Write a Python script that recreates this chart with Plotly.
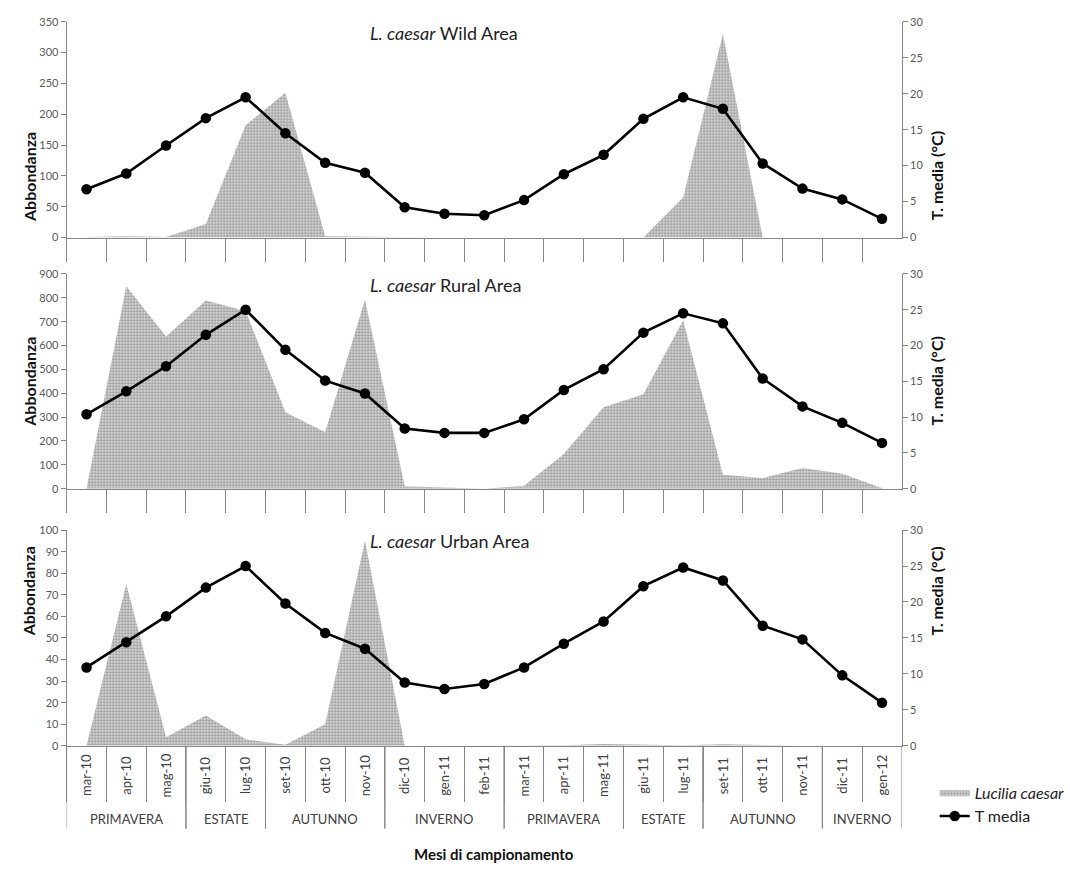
import plotly.graph_objects as go

# ---------------- data ----------------
months = ["mar-10", "apr-10", "mag-10", "giu-10", "lug-10", "set-10", "ott-10",
          "nov-10", "dic-10", "gen-11", "feb-11", "mar-11", "apr-11", "mag-11",
          "giu-11", "lug-11", "set-11", "ott-11", "nov-11", "dic-11", "gen-12"]
seasons = ["PRIMAVERA", "PRIMAVERA", "PRIMAVERA", "ESTATE", "ESTATE",
           "AUTUNNO", "AUTUNNO", "AUTUNNO", "INVERNO", "INVERNO", "INVERNO",
           "PRIMAVERA", "PRIMAVERA", "PRIMAVERA", "ESTATE", "ESTATE",
           "AUTUNNO", "AUTUNNO", "AUTUNNO", "INVERNO", "INVERNO"]

wild_abund = [1, 2, 1, 22, 182, 235, 2, 1, 0, 0, 0, 0, 0, 0, 0, 65, 330, 0, 0, 0, 0]
wild_temp = [6.7, 8.9, 12.8, 16.6, 19.5, 14.5, 10.4, 9.0, 4.2, 3.3, 3.1,
             5.2, 8.8, 11.5, 16.5, 19.5, 17.9, 10.3, 6.8, 5.3, 2.6]

rural_abund = [0, 848, 638, 789, 745, 320, 237, 793, 10, 4, 0,
               12, 145, 341, 396, 706, 59, 45, 87, 63, 3]
rural_temp = [10.4, 13.6, 17.1, 21.5, 25.0, 19.4, 15.1, 13.3, 8.4, 7.8, 7.8,
              9.7, 13.8, 16.7, 21.8, 24.5, 23.1, 15.4, 11.5, 9.2, 6.4]

urban_abund = [0, 75, 4, 14, 3, 0.5, 10, 95, 0, 0, 0,
               0, 0.3, 0.8, 0.7, 0.3, 0.7, 0.2, 0, 0, 0]
urban_temp = [10.9, 14.4, 18.0, 22.0, 25.0, 19.8, 15.7, 13.5, 8.8, 7.9, 8.6,
              10.9, 14.2, 17.3, 22.2, 24.8, 23.0, 16.7, 14.8, 9.8, 6.0]

panel_titles = ["<i>L. caesar</i> Wild Area", "<i>L. caesar</i> Rural Area",
                "<i>L. caesar</i> Urban Area"]
left_ranges = [(350, 50), (900, 100), (100, 10)]

# ---------------- layout geometry ----------------
W, H = 1070, 872
FONT = "Lato"
AXC = "#868686"
TXC = "#404040"


def py(px):
    return 1 - px / H


def pxx(px):
    return px / W


x_dom = [pxx(67), pxx(907)]
panels_px = [(15, 234), (271, 489), (531, 750)]

fig = go.Figure()

abund = [wild_abund, rural_abund, urban_abund]
temps = [wild_temp, rural_temp, urban_temp]

for i in range(3):
    xa = "x" if i == 0 else f"x{i + 1}"
    yl = "y" if i == 0 else f"y{2 * i + 1}"
    yr = f"y{2 * i + 2}"
    fig.add_trace(go.Scatter(
        x=months, y=abund[i], xaxis=xa, yaxis=yl,
        mode="lines", fill="tozeroy", line=dict(width=0, color="#9a9a9a"),
        fillcolor="#d8d8d8",
        fillpattern=dict(shape=".", fgcolor="#4a4a4a", bgcolor="#dcdcdc",
                         size=3, solidity=0.45),
        name="<i>Lucilia caesar</i>", showlegend=(i == 2), legendrank=1,
    ))
    fig.add_trace(go.Scatter(
        x=months, y=temps[i], xaxis=xa, yaxis=yr,
        mode="lines+markers", line=dict(color="black", width=2.6),
        marker=dict(color="black", size=10.5),
        name="T media", showlegend=(i == 2), legendrank=2,
    ))

layout = dict(
    width=W, height=H, margin=dict(l=0, r=0, t=0, b=0),
    paper_bgcolor="white", plot_bgcolor="white",
    font=dict(family=FONT, color=TXC, size=11),
    legend=dict(x=pxx(940), y=py(780), xanchor="left", yanchor="top",
                font=dict(family=FONT, size=16, color="#222"),
                bgcolor="rgba(0,0,0,0)", tracegroupgap=2, itemwidth=30),
    showlegend=True,
)

annotations = []
shapes = []

for i in range(3):
    top_px, bot_px = panels_px[i]
    dom = [py(bot_px), py(top_px)]
    xkey = "xaxis" if i == 0 else f"xaxis{i + 1}"
    xname = "x" if i == 0 else f"x{i + 1}"
    ylkey = "yaxis" if i == 0 else f"yaxis{2 * i + 1}"
    ylname = "y" if i == 0 else f"y{2 * i + 1}"
    yrkey = f"yaxis{2 * i + 2}"
    layout[xkey] = dict(
        domain=x_dom, anchor=ylname, type="category",
        categoryorder="array", categoryarray=months, range=[-0.5, 20.5],
        showline=True, linecolor=AXC, linewidth=1,
        ticks="outside", tickson="boundaries", ticklen=(55 if i == 2 else 23),
        tickcolor=AXC, tickwidth=1, showticklabels=False,
        showgrid=False, zeroline=False, fixedrange=True,
    )
    ymax, dt = left_ranges[i]
    layout[ylkey] = dict(
        domain=dom, anchor=xname, range=[0, ymax], dtick=dt,
        showline=True, linecolor=AXC, linewidth=1, ticks="outside",
        ticklen=5, tickcolor=AXC, tickfont=dict(size=11, color="#595959"),
        showgrid=False, zeroline=False,
    )
    layout[yrkey] = dict(
        domain=dom, anchor=xname, overlaying=ylname, side="right",
        range=[0, 30], dtick=5,
        showline=True, linecolor=AXC, linewidth=1, ticks="outside",
        ticklen=5, tickcolor=AXC, tickfont=dict(size=11, color="#595959"),
        showgrid=False, zeroline=False,
    )
    # panel title
    annotations.append(dict(
        text=panel_titles[i], xref="paper", yref="paper",
        x=pxx(370), y=py(top_px + 11), xanchor="left", yanchor="middle",
        showarrow=False, font=dict(family=FONT, size=18, color="#222"),
    ))
    # axis titles
    ymid = py((top_px + bot_px) / 2)
    annotations.append(dict(
        text="<b>Abbondanza</b>", xref="paper", yref="paper",
        x=pxx(18), y=ymid, textangle=-90, showarrow=False,
        font=dict(family=FONT, size=16, color="#111"),
    ))
    annotations.append(dict(
        text="<b>T. media (°C)</b>", xref="paper", yref="paper",
        x=pxx(953), y=ymid, textangle=-90, showarrow=False,
        font=dict(family=FONT, size=16, color="#111"),
    ))

# bottom category labels: months (rotated) and seasons
for m in months:
    annotations.append(dict(
        text=m, xref="x3", yref="paper", x=m, y=py(780),
        textangle=-90, showarrow=False, xanchor="center", yanchor="middle",
        font=dict(family=FONT, size=13, color=TXC),
    ))

# season groups derived from the seasons list
groups = []
start = 0
for k in range(1, len(seasons) + 1):
    if k == len(seasons) or seasons[k] != seasons[start]:
        groups.append((seasons[start], start, k - 1))
        start = k

for name, s, e in groups:
    annotations.append(dict(
        text=name, xref="x3", yref="paper", x=(s + e) / 2, y=py(824),
        showarrow=False, xanchor="center", yanchor="middle",
        font=dict(family=FONT, size=13, color=TXC),
    ))
    for b in (s - 0.5, e + 0.5):
        shapes.append(dict(
            type="line", xref="x3", yref="paper", x0=b, x1=b,
            y0=py(750), y1=py(834), line=dict(color=AXC, width=1),
        ))

annotations.append(dict(
    text="<b>Mesi di campionamento</b>", xref="paper", yref="paper",
    x=pxx(497), y=py(860), showarrow=False, xanchor="center", yanchor="middle",
    font=dict(family=FONT, size=15, color="#111"),
))

layout["annotations"] = annotations
layout["shapes"] = shapes
fig.update_layout(**layout)

fig.write_html("out.html")
